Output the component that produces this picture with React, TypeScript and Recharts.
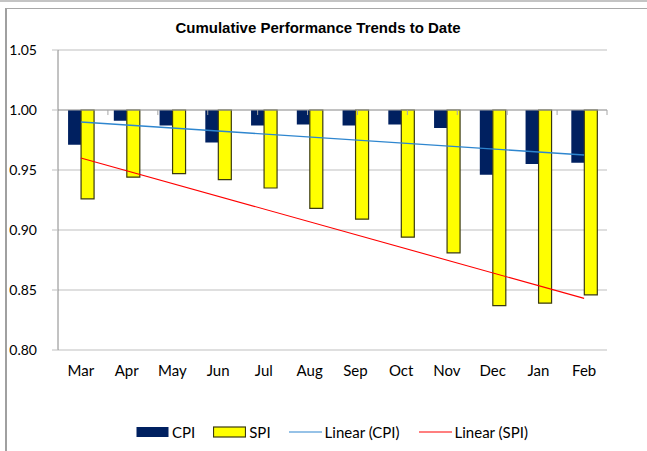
import React from 'react';
import {
  ComposedChart, Bar, Line, XAxis, YAxis, CartesianGrid, ReferenceLine, Legend,
} from 'recharts';

const months = ['Mar', 'Apr', 'May', 'Jun', 'Jul', 'Aug', 'Sep', 'Oct', 'Nov', 'Dec', 'Jan', 'Feb'];
const cpiValues = [0.971, 0.991, 0.987, 0.973, 0.987, 0.988, 0.987, 0.988, 0.985, 0.946, 0.955, 0.956];
const spiValues = [0.926, 0.944, 0.947, 0.942, 0.935, 0.918, 0.909, 0.894, 0.881, 0.837, 0.839, 0.846];
// Linear trend lines: endpoints (Mar and Feb)
const cpiTrend: (number | null)[] = [0.990, null, null, null, null, null, null, null, null, null, null, 0.9625];
const spiTrend: (number | null)[] = [0.960, null, null, null, null, null, null, null, null, null, null, 0.843];
const yTicks = [0.8, 0.85, 0.9, 0.95, 1.0, 1.05];
const baseline = 1.0;
const categoryBoundaries = [1, 2, 3, 4, 5, 6, 7, 8, 9, 10, 11];

const data = months.map((m, i) => ({
  month: m,
  cpi: [cpiValues[i], baseline],
  spi: [spiValues[i], baseline],
  cpiTrend: cpiTrend[i],
  spiTrend: spiTrend[i],
}));

const FONT = 'Lato, "Open Sans", sans-serif';

const legendItems = [
  { label: 'CPI', kind: 'rect', fill: '#002060', stroke: 'none', gap: 18 },
  { label: 'SPI', kind: 'rect', fill: '#FFFF00', stroke: '#3a3a10', gap: 18 },
  { label: 'Linear (CPI)', kind: 'line', fill: '#2E86CF', stroke: '#2E86CF', gap: 19 },
  { label: 'Linear (SPI)', kind: 'line', fill: '#FF0000', stroke: '#FF0000', gap: 0 },
];

const renderLegend = () => (
  <div style={{ display: 'flex', alignItems: 'center', fontFamily: FONT, fontSize: 15, color: '#000', whiteSpace: 'nowrap' }}>
    {legendItems.map((it) => (
      <div key={it.label} style={{ display: 'flex', alignItems: 'center', marginRight: it.gap }}>
        <svg width={33} height={12} style={{ marginRight: 3 }}>
          {it.kind === 'rect' ? (
            <rect x={0.5} y={1} width={32} height={10} fill={it.fill}
              stroke={it.stroke === 'none' ? undefined : it.stroke} strokeWidth={1.2} />
          ) : (
            <line x1={0} y1={6} x2={33} y2={6} stroke={it.stroke} strokeWidth={1.2} />
          )}
        </svg>
        <span>{it.label}</span>
      </div>
    ))}
  </div>
);

export default function App() {
  return (
    <div style={{ position: 'absolute', left: 0, top: 0, width: 647, height: 451, background: '#fff', overflow: 'hidden', fontFamily: FONT }}>
      <div style={{ position: 'absolute', left: 0, top: 0, width: 647, height: 0, borderTop: '2px solid #c4c4c4' }} />
      <div style={{ position: 'absolute', left: 5, top: 8, width: 700, height: 500, borderTop: '1px solid #a8a8a8', borderLeft: '2px solid #a0a0a0' }} />
      <div style={{ position: 'absolute', left: 0, top: 19, width: 636, textAlign: 'center', fontFamily: '"Liberation Sans", Arial, sans-serif', fontWeight: 'bold', fontSize: 15, color: '#000' }}>
        Cumulative Performance Trends to Date
      </div>
      <div style={{ position: 'absolute', left: 0, top: 0 }}>
        <ComposedChart
          width={647}
          height={451}
          data={data}
          margin={{ top: 50, right: 40, bottom: 61, left: 0 }}
          barCategoryGap="22%"
          barGap={0}
          style={{ fontFamily: FONT }}
        >
          <CartesianGrid horizontal vertical={false} stroke="#BFBFBF" strokeWidth={1.2} />
          <XAxis
            dataKey="month"
            axisLine={false}
            tickLine={false}
            tickSize={0}
            tickMargin={15}
            height={40}
            interval={0}
            tick={{ fill: '#000', fontSize: 15, fontFamily: FONT }}
          />
          <XAxis xAxisId="grid" type="number" domain={[0, 12]} hide allowDataOverflow />
          <YAxis
            type="number"
            domain={[0.8, 1.05]}
            ticks={yTicks}
            allowDataOverflow
            width={58}
            tickFormatter={(v: number) => v.toFixed(2)}
            axisLine={{ stroke: '#868686' }}
            tickLine={{ stroke: '#BFBFBF' }}
            tickSize={6}
            tickMargin={15}
            tick={{ fill: '#000', fontSize: 14, fontFamily: FONT }}
          />
          <ReferenceLine y={baseline} stroke="#A6A6A6" strokeWidth={1.2} />
          {categoryBoundaries.map((b) => (
            <ReferenceLine
              key={b}
              xAxisId="grid"
              segment={[{ x: b, y: baseline }, { x: b, y: 0.9958 }]}
              stroke="#A6A6A6"
            />
          ))}
          <Bar dataKey="cpi" fill="#002060" isAnimationActive={false} />
          <Bar dataKey="spi" fill="#FFFF00" stroke="#3a3a10" strokeWidth={1.2} isAnimationActive={false} />
          <Line dataKey="cpiTrend" stroke="#2E86CF" strokeWidth={1.3} dot={false} connectNulls isAnimationActive={false} />
          <Line dataKey="spiTrend" stroke="#FF0000" strokeWidth={1.1} dot={false} connectNulls isAnimationActive={false} />
          <Legend
            layout="horizontal"
            verticalAlign="middle"
            align="center"
            content={renderLegend}
            wrapperStyle={{ top: 423, left: 136, width: 500 }}
          />
        </ComposedChart>
      </div>
    </div>
  );
}
